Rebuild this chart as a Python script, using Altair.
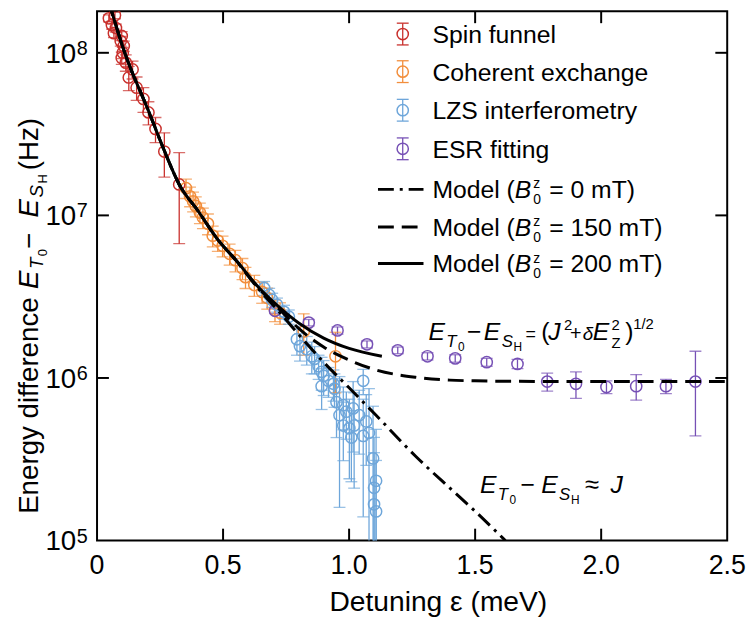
import altair as alt
import pandas as pd

FONT = "Liberation Sans"
W, H = 637, 535
PX0, PY0 = 98, 8  # page position of the plot area's top-left corner

# ---------------- data ----------------
series_names = ["Spin funnel", "Coherent exchange", "LZS interferometry", "ESR fitting"]
series_colors = ["#c9302c", "#f28e3c", "#6ea6da", "#7650b5"]

sf_eps = [0.047, 0.071, 0.059, 0.075, 0.067, 0.098, 0.094, 0.106, 0.102, 0.098,
          0.114, 0.141, 0.126, 0.157, 0.184, 0.204, 0.232, 0.267, 0.326]
sf_val = [1.63e8, 1.70e8, 1.48e8, 1.42e8, 1.32e8, 1.27e8, 1.18e8, 1.10e8, 1.00e8, 9.3e7,
          8.7e7, 7.9e7, 7.05e7, 6.1e7, 5.2e7, 4.3e7, 3.4e7, 2.47e7, 1.55e7]
sf_err = [0.8e7, 0.8e7, 0.8e7, 0.8e7, 0.8e7, 0.8e7, 0.8e7, 0.8e7, 0.8e7, 0.8e7,
          1.0e7, 1.0e7, 1.2e7, 1.0e7, 0.9e7, 0.7e7, 0.6e7, 0.75e7, 0.88e7]

ce_eps = [0.353, 0.369, 0.381, 0.392, 0.408, 0.420, 0.440, 0.459, 0.479, 0.498, 0.526,
          0.549, 0.577, 0.589, 0.624, 0.655, 0.675, 0.706, 0.726, 0.820, 0.946]
ce_val = [1.47e7, 1.31e7, 1.22e7, 1.14e7, 1.04e7, 9.7e6, 8.9e6, 7.5e6, 7.0e6, 6.5e6, 5.8e6,
          5.3e6, 4.73e6, 4.17e6, 3.73e6, 3.38e6, 3.11e6, 2.62e6, 2.52e6, 1.93e6, 1.36e6]
ce_err = [2.0e6, 1.8e6, 1.7e6, 1.6e6, 1.5e6, 1.4e6, 1.3e6, 1.1e6, 1.0e6, 0.95e6, 0.85e6,
          0.8e6, 0.7e6, 0.62e6, 0.55e6, 0.5e6, 0.46e6, 0.4e6, 0.38e6, 0.55e6, 0.55e6]

lzs_eps = [0.663, 0.683, 0.695, 0.714, 0.742, 0.761, 0.793, 0.805, 0.832, 0.852, 0.863,
           0.879, 0.891, 0.899, 0.891, 0.918, 0.938, 0.942, 0.950, 0.977, 0.962, 0.989,
           1.016, 1.040, 0.977, 1.001, 1.020, 1.056, 1.068, 1.009, 1.056, 1.079, 1.095,
           1.107, 1.099, 1.099, 1.107]
lzs_val = [3.57e6, 3.24e6, 3.02e6, 2.82e6, 2.55e6, 2.38e6, 1.73e6, 1.57e6, 1.50e6, 1.36e6,
           1.31e6, 1.18e6, 1.09e6, 1.03e6, 8.9e5, 9.6e5, 9.2e5, 8.6e5, 7.1e5, 6.8e5, 5.9e5,
           6.2e5, 6.5e5, 5.9e5, 5.1e5, 4.9e5, 5.1e5, 9.6e5, 5.4e5, 4.3e5, 4.4e5, 4.6e5,
           3.2e5, 2.33e5, 2.11e5, 1.67e5, 1.51e5]
lzs_err = [0.35e6, 0.32e6, 0.3e6, 0.28e6, 0.25e6, 0.24e6, 0.35e6, 0.3e6, 0.3e6, 0.3e6,
           0.25e6, 0.2e6, 0.25e6, 0.25e6, 0.25e6, 0.2e6, 0.2e6, 0.2e6, 2.8e5, 2.0e5, 4.3e5,
           2.0e5, 3.0e5, 2.5e5, 2.0e5, 2.5e5, 3.0e5, 1.7e5, 2.5e5, 2.0e5, 3.0e5, 4.0e5,
           3.5e5, 2.5e5, 2.2e5, 1.8e5, 1.6e5]

esr_eps = [0.706, 0.840, 0.954, 1.071, 1.193, 1.311, 1.421, 1.546, 1.668, 1.786, 1.900,
           2.021, 2.139, 2.257, 2.374]
esr_val = [2.59e6, 2.19e6, 1.96e6, 1.61e6, 1.48e6, 1.36e6, 1.32e6, 1.25e6, 1.22e6, 9.5e5,
           9.2e5, 8.8e5, 8.9e5, 8.9e5, 9.5e5]
esr_err = [1.0e5, 1.0e5, 1.0e5, 0.8e5, 0.7e5, 0.7e5, 0.7e5, 0.7e5, 0.8e5, 1.2e5, 1.7e5,
           0.8e5, 1.6e5, 0.9e5, 5.1e5]

# model curves
m0_eps = [0.045, 0.11, 0.204, 0.267, 0.326, 0.40, 0.479, 0.55, 0.636, 0.726, 0.80, 0.899,
          1.0, 1.107, 1.264, 1.40, 1.499, 1.62]
m0_val = [2.1e8, 1.0e8, 4.4e7, 2.5e7, 1.55e7, 1.07e7, 7.1e6, 5.3e6, 3.6e6, 2.52e6, 1.85e6,
          1.25e6, 8.7e5, 5.9e5, 3.3e5, 2.1e5, 1.52e5, 1.0e5]
m150_eps = [0.045, 0.11, 0.204, 0.267, 0.326, 0.40, 0.479, 0.55, 0.636, 0.726, 0.80, 0.899,
            1.0, 1.107, 1.264, 1.40, 1.499, 1.62, 2.0, 2.5]
m150_val = [2.1e8, 1.0e8, 4.4e7, 2.5e7, 1.55e7, 1.07e7, 7.1e6, 5.32e6, 3.64e6, 2.62e6,
            2.02e6, 1.55e6, 1.29e6, 1.12e6, 1.01e6, 9.7e5, 9.6e5, 9.55e5, 9.5e5, 9.5e5]
m200_eps = [0.045, 0.11, 0.204, 0.267, 0.326, 0.40, 0.479, 0.55, 0.636, 0.726, 0.80, 0.899,
            1.0, 1.13]
m200_val = [2.1e8, 1.0e8, 4.4e7, 2.5e7, 1.55e7, 1.07e7, 7.1e6, 5.34e6, 3.68e6, 2.70e6,
            2.18e6, 1.76e6, 1.52e6, 1.36e6]

x_ticks = [0, 0.5, 1.0, 1.5, 2.0, 2.5]
x_tick_labels = ["0", "0.5", "1.0", "1.5", "2.0", "2.5"]
y_ticks = [1e5, 1e6, 1e7, 1e8]
y_exps = ["5", "6", "7", "8"]

# ---------------- helpers ----------------
X_SCALE = alt.Scale(domain=[0, 2.5], nice=False, zero=False)
Y_SCALE = alt.Scale(type="log", domain=[1e5, 1.8e8], nice=False)
COLOR = alt.Scale(domain=series_names, range=series_colors)

AW = {' ': 278, '(': 333, ')': 333, '=': 584, '+': 584, '−': 584, '≈': 584, '/': 278,
      '.': 278, '0': 556, '1': 556, '2': 556, '5': 556,
      'B': 667, 'E': 667, 'H': 722, 'J': 500, 'M': 833, 'S': 667, 'T': 611, 'Z': 611,
      'a': 556, 'c': 500, 'd': 556, 'e': 556, 'f': 278, 'g': 556, 'i': 222, 'l': 222,
      'm': 833, 'n': 556, 'o': 556, 'r': 333, 'y': 500, 'z': 500}


def tw(s, size):
    return sum(AW.get(c, 556) for c in s) * size / 1000.0


ONE = alt.Data(values=[{"a": 0}])


def txt(t, x, y, size, italic=False, angle=0, align="left"):
    kw = dict(text=t, align=align, baseline="alphabetic", font=FONT, fontSize=size,
              fontStyle="italic" if italic else "normal", color="black")
    if angle:
        kw["angle"] = angle
    return alt.Chart(ONE).mark_text(**kw).encode(x=alt.value(x - PX0), y=alt.value(y - PY0))


def prule(x1, y1, x2, y2, color="black", width=1.4, dash=None):
    kw = dict(color=color, strokeWidth=width)
    if dash:
        kw["strokeDash"] = dash
    return alt.Chart(ONE).mark_rule(**kw).encode(
        x=alt.value(x1 - PX0), y=alt.value(y1 - PY0),
        x2=alt.value(x2 - PX0), y2=alt.value(y2 - PY0))


def frame(eps, val, err, name):
    return pd.DataFrame({
        "eps": eps, "val": val,
        "lo": [max(v - e, 3e4) for v, e in zip(val, err)],
        "hi": [v + e for v, e in zip(val, err)],
        "series": name})


pts = pd.concat([
    frame(sf_eps, sf_val, sf_err, series_names[0]),
    frame(ce_eps, ce_val, ce_err, series_names[1]),
    frame(lzs_eps, lzs_val, lzs_err, series_names[2]),
    frame(esr_eps, esr_val, esr_err, series_names[3]),
], ignore_index=True)

X = alt.X("eps:Q", scale=X_SCALE, axis=None)
col = alt.Color("series:N", scale=COLOR, legend=None)

layers = []
base = alt.Chart(pts)
layers.append(base.mark_rule(strokeWidth=1.3, clip=True).encode(
    x=X, y=alt.Y("lo:Q", scale=Y_SCALE, axis=None), y2="hi:Q", color=col))
for f in ["lo", "hi"]:
    layers.append(base.mark_tick(orient="horizontal", size=12, thickness=1.3, clip=True).encode(
        x=X, y=alt.Y(f + ":Q", scale=Y_SCALE, axis=None), color=col))
layers.append(base.mark_point(shape="circle", filled=False, size=130, strokeWidth=1.5,
                              opacity=1, clip=True).encode(
    x=X, y=alt.Y("val:Q", scale=Y_SCALE, axis=None), color=col))

models = [
    (m0_eps, m0_val, [16, 6, 3, 6]),
    (m150_eps, m150_val, [16, 8]),
    (m200_eps, m200_val, None),
]
for eps, val, dash in models:
    kw = dict(color="black", strokeWidth=3, interpolate="monotone", clip=True)
    if dash:
        kw["strokeDash"] = dash
    layers.append(alt.Chart(pd.DataFrame({"eps": eps, "val": val})).mark_line(**kw).encode(
        x=X, y=alt.Y("val:Q", scale=Y_SCALE, axis=None)))

# inward ticks on all four sides
xt = pd.DataFrame({"v": x_ticks[1:-1]})
for ya, yb in [(H, H - 12), (0, 12)]:
    layers.append(alt.Chart(xt).mark_rule(color="black", strokeWidth=2).encode(
        x=alt.X("v:Q", scale=X_SCALE, axis=None), y=alt.value(ya), y2=alt.value(yb)))
yt = pd.DataFrame({"v": y_ticks[1:]})
for xa, xb in [(0, 12), (W, W - 12)]:
    layers.append(alt.Chart(yt).mark_rule(color="black", strokeWidth=2).encode(
        y=alt.Y("v:Q", scale=Y_SCALE, axis=None), x=alt.value(xa), x2=alt.value(xb)))

# tick labels
layers.append(alt.Chart(pd.DataFrame({"v": x_ticks, "lab": x_tick_labels})).mark_text(
    align="center", baseline="alphabetic", font=FONT, fontSize=27, color="black").encode(
    x=alt.X("v:Q", scale=X_SCALE, axis=None), y=alt.value(577 - PY0), text="lab:N"))
yl = pd.DataFrame({"v": y_ticks, "e": y_exps})
layers.append(alt.Chart(yl).mark_text(
    text="10", align="right", baseline="alphabetic", dy=10, font=FONT, fontSize=28,
    color="black").encode(y=alt.Y("v:Q", scale=Y_SCALE, axis=None), x=alt.value(77 - PX0)))
layers.append(alt.Chart(yl).mark_text(
    align="left", baseline="alphabetic", dy=2, font=FONT, fontSize=20,
    color="black").encode(y=alt.Y("v:Q", scale=Y_SCALE, axis=None), x=alt.value(77.5 - PX0),
                          text="e:N"))

# x title
layers.append(txt("Detuning ε (meV)", 443, 614, 28.5, align="center"))

# y title (rotated, built from pieces reading bottom-to-top)
yb0, xb = 516, 38
ypieces = [("Energy difference ", 28, False, 0, 0), ("E", 28, True, 0, 1.5),
           ("T", 19, True, 5, 1.5), ("0", 13, False, 9, 0), (" − ", 28, False, 0, 0),
           ("E", 28, True, 0, 1.5), ("S", 19, True, 5, 1.5), ("H", 13, False, 9, 4),
           (" (Hz)", 28, False, 0, 0)]
yy = yb0
for t, s, it, sh, extra in ypieces:
    layers.append(txt(t, xb + sh, yy, s, italic=it, angle=270))
    yy -= tw(t, s) + extra

# legend: markers with error bars
LF = 25
leg_base = [40, 78, 117, 156]
for name, c, b in zip(series_names, series_colors, leg_base):
    cy = b - 9
    layers.append(prule(407, cy - 11, 407, cy + 11, color=c, width=1.3))
    layers.append(prule(401, cy - 11, 413, cy - 11, color=c, width=1.3))
    layers.append(prule(401, cy + 11, 413, cy + 11, color=c, width=1.3))
    layers.append(alt.Chart(ONE).mark_point(shape="circle", filled=False, size=130,
                                            strokeWidth=1.5, opacity=1, color=c).encode(
        x=alt.value(407 - PX0), y=alt.value(cy - PY0)))
    layers.append(txt(name, 437, b, LF))

# legend: model lines
model_rows = [("0", 197, [16, 6, 3, 6]), ("150", 235, [16, 8]), ("200", 272, None)]
for lab, b, dash in model_rows:
    layers.append(prule(382, b - 9, 428, b - 9, width=3, dash=dash))
    x1 = 437 + tw("Model (", LF)
    layers.append(txt("Model (", 437, b, LF))
    layers.append(txt("B", x1, b, LF, italic=True))
    x2 = x1 + tw("B", LF) + 2
    layers.append(txt("z", x2, b - 10, 14))
    layers.append(txt("0", x2, b + 6, 14))
    layers.append(txt("= " + lab + " mT)", x2 + 16, b, LF))

# annotation 1: E_T0 − E_SH = (J² + δE_Z²)^1/2
a1 = [("E", 433, 340, 25, True), ("T", 451, 347, 17, True), ("0", 463, 351, 12, False),
      ("−", 472, 340, 25, False), ("E", 489, 340, 25, True), ("S", 507, 347, 17, True),
      ("H", 519, 351, 12, False), ("=", 531, 340, 18, False), ("(", 547, 340, 25, False),
      ("J", 554, 340, 25, True), ("2", 570, 330, 15, False), ("+", 576, 340, 20, False),
      ("δ", 589, 340, 19, True), ("E", 599, 340, 25, True), ("2", 618, 330, 15, False),
      ("Z", 618, 348, 15, False), (")", 632, 340, 25, False), ("1/2", 640, 329, 15, False)]
for t, x, y, s, it in a1:
    layers.append(txt(t, x, y, s, italic=it))

# annotation 2: E_T0 − E_SH ≈ J
a2 = [("E", 485, 495, 25, True), ("T", 503, 502, 17, True), ("0", 515, 506, 12, False),
      ("−", 526, 495, 25, False), ("E", 547, 495, 25, True), ("S", 565, 502, 17, True),
      ("H", 577, 506, 12, False), ("≈", 591, 495, 26, False), ("J", 617, 495, 25, True)]
for t, x, y, s, it in a2:
    layers.append(txt(t, x, y, s, italic=it))

chart = alt.layer(*layers).properties(
    width=W, height=H,
    padding={"left": PX0 - 8, "top": PY0 - 8, "right": 19, "bottom": 80},
    autosize=alt.AutoSizeParams(type="none"),
    background="white",
).configure_view(stroke="black", strokeWidth=2)

chart.save("out.html", embed_options={"renderer": "svg", "actions": False})
